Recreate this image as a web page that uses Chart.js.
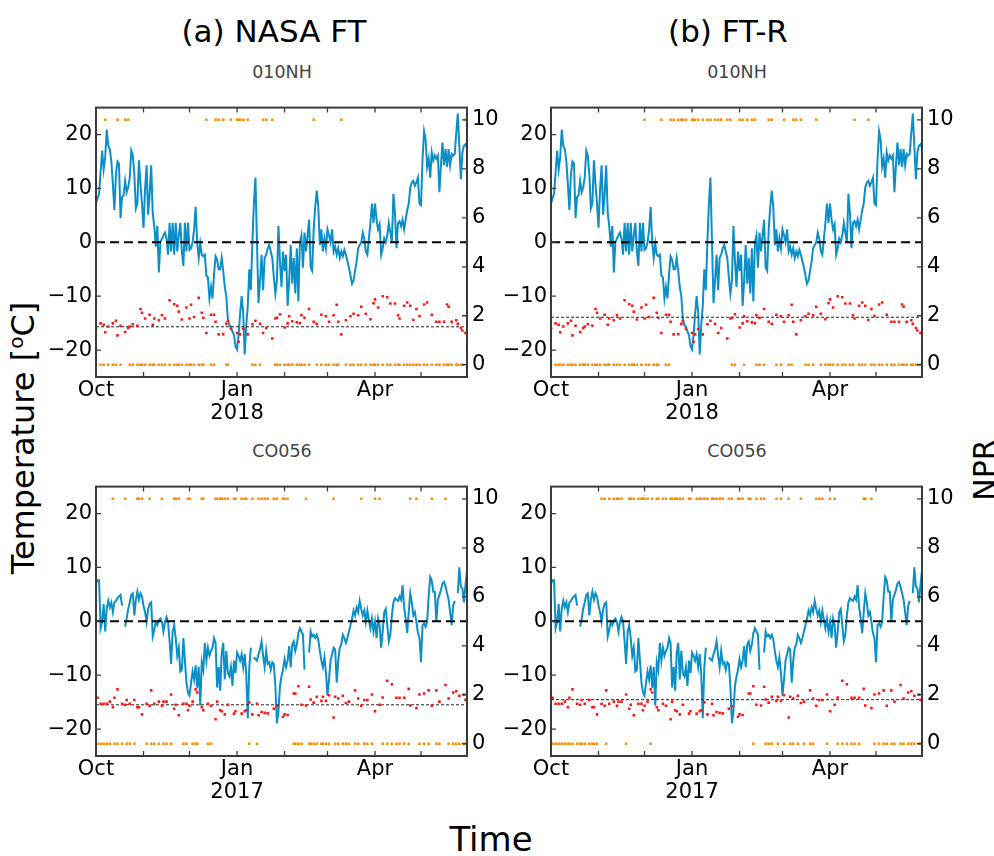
<!DOCTYPE html>
<html><head><meta charset="utf-8">
<script src="https://cdn.jsdelivr.net/npm/chart.js@4.4.1/dist/chart.umd.min.js"></script>
<style>
body{margin:0;background:#fff;width:994px;height:856px;position:relative;overflow:hidden;font-family:"DejaVu Sans",Verdana,sans-serif;}
canvas{position:absolute;}
.t{position:absolute;white-space:nowrap;transform:translate(-50%,-50%);color:#000;}
.sub{font-size:17.5px;color:#444;}
.big{font-size:31px;}
</style></head><body>
<div class="t big" style="left:274px;top:31px">(a) NASA FT</div>
<div class="t big" style="left:728px;top:31px">(b) FT-R</div>
<div class="t sub" style="left:282px;top:72px">010NH</div>
<div class="t sub" style="left:737px;top:72px">010NH</div>
<div class="t sub" style="left:282px;top:451px">CO056</div>
<div class="t sub" style="left:737px;top:451px">CO056</div>
<div class="t big" style="left:23px;top:438px;font-size:32px;transform:translate(-50%,-50%) rotate(-90deg)">Temperature [<sup style="font-size:20px">o</sup>C]</div>
<div class="t big" style="left:984px;top:470px;font-size:30px;transform:translate(-50%,-50%) rotate(-90deg)">NPR</div>
<div class="t big" style="left:491px;top:839px;font-size:34px">Time</div>
<canvas id="c1" width="470" height="340" style="left:40px;top:90px"></canvas>
<canvas id="c2" width="470" height="340" style="left:495px;top:90px"></canvas>
<canvas id="c3" width="470" height="340" style="left:40px;top:469px"></canvas>
<canvas id="c4" width="470" height="340" style="left:495px;top:469px"></canvas>
<script>
// ---- axes ----
const xDomain = [0, 242];               // days since 1 Oct
const monthTicks = [0, 31, 61, 92, 123, 151, 182, 212];
const monthLabels = ['Oct', '', '', 'Jan', '', '', 'Apr', ''];
const tempTicks = [-20, -10, 0, 10, 20];
const nprTicks = [0, 2, 4, 6, 8, 10];
const frozenLevel = 10, thawedLevel = 0;

// ---- 010NH (winter 2017/18) daily temperature, deg C ----
const tempNH = [7.2,8.2,9.0,13.0,17.0,13.5,15.8,20.9,17.9,17.3,15.0,10.8,6.0,12.6,15.0,14.6,4.5,8.4,8.7,11.4,
9.3,10.2,12.0,17.0,16.1,12.6,6.3,7.2,15.2,10.8,7.2,2.7,9.9,14.3,5.1,9.0,14.3,5.4,3.0,-0.8,
3.0,-5.6,0.0,0.7,1.3,1.8,0.7,-2.3,3.6,-1.7,3.6,-2.3,3.6,-1.7,1.3,3.6,-1.7,-4.4,3.6,-1.7,
3.6,-1.4,-1.1,0.0,2.4,6.6,0.0,-2.9,-0.2,-2.3,-2.6,-2.3,-6.2,-6.5,-10.4,-8.3,-10.4,-5.9,-2.6,-3.2,
-5.0,-5.0,-2.9,-5.3,-8.3,-10.0,-14.2,-15.4,-15.7,-16.6,-17.2,-19.3,-19.9,-17.2,-13.3,-10.0,-13.0,-20.8,-15.4,-11.8,
-5.0,-8.9,0.0,7.2,12.0,0.0,-11.3,-7.1,-2.3,-8.9,-2.9,-2.3,-1.1,-0.5,-1.7,-2.9,-6.5,-9.5,-7.1,3.0,
-3.5,-8.3,-1.7,-5.3,-2.3,-11.8,-7.1,-0.5,-7.7,-2.9,-9.5,-1.1,-11.0,0.0,1.3,-4.7,1.8,-1.7,1.3,4.2,
-4.7,-5.3,2.4,6.6,9.6,6.6,-0.5,2.4,-1.7,0.7,-1.1,2.4,1.3,0.0,2.4,-1.7,-0.8,-2.3,-1.1,-2.9,
-1.7,-2.6,-1.4,-2.3,-3.5,-4.7,-6.2,-7.7,-7.1,-5.3,-3.5,-1.1,-0.5,0.0,1.8,0.7,-1.7,-2.3,0.7,3.6,
7.2,3.6,7.2,4.2,2.4,3.3,-2.3,-1.1,0.7,0.0,1.3,3.6,1.8,0.0,9.0,5.4,-1.1,3.6,3.9,3.0,
4.2,2.4,4.2,6.0,7.2,10.2,11.1,11.4,10.5,11.1,12.0,7.2,6.9,15.5,20.6,19.1,14.0,15.5,12.0,16.7,
15.2,16.1,15.5,16.1,9.3,14.3,18.5,14.3,17.3,14.0,17.3,14.3,16.4,16.1,16.4,20.3,23.9,17.9,11.7,16.7,
17.9,18.2,17.5];

// ---- CO056 (winter 2016/17) daily temperature, deg C (null = missing) ----
const tempCO = [7.0,7.6,7.6,-1.3,-0.1,3.2,-1.9,2.3,3.8,2.6,3.5,1.7,3.5,3.8,4.3,4.6,4.9,2.9,null,-1.0,
0.5,2.3,3.5,4.9,5.2,1.1,4.0,5.5,4.0,5.2,4.6,2.9,1.7,-0.1,2.3,3.2,3.5,-2.8,-1.6,-0.1,
-0.7,0.2,0.5,-0.1,-1.9,-0.1,0.8,-0.1,-3.7,-7.9,-1.9,-0.7,-3.1,-6.4,-4.9,-9.3,-9.0,-3.1,-7.3,-11.4,
-13.2,-13.8,-11.4,-9.3,-10.8,-8.2,-12.3,-8.5,-15.6,-7.6,-9.0,-4.0,-7.3,-4.9,-6.4,-5.5,-4.9,-3.1,-4.0,-12.3,
-8.5,-12.9,-5.8,-4.0,-10.8,-5.5,-9.6,-10.2,-8.5,-12.0,-7.3,-9.6,-5.8,-6.4,-7.3,-6.1,-8.5,-6.1,-9.9,-18.0,
-8.5,-4.9,null,-6.7,-7.0,-7.3,-6.1,-5.2,-3.7,-6.4,-8.5,-5.5,-7.9,-7.6,-9.0,-7.6,-7.9,-12.0,-18.9,-16.8,
-12.0,-10.2,-9.0,-7.0,-8.5,-7.3,-4.6,-8.5,-4.3,-3.7,-5.5,-4.3,-2.2,-1.3,-1.9,-2.5,-9.0,null,null,-5.8,
-1.9,-2.8,-2.5,-3.1,-2.5,-3.4,-5.5,-7.3,-8.5,-6.7,-9.6,-13.8,-10.8,-7.3,-6.1,-4.9,-5.2,-11.4,-7.3,-4.9,
-4.3,-2.5,-3.1,-4.0,-3.1,-1.9,-0.7,0.5,2.0,1.1,2.6,1.7,3.8,2.3,1.1,2.0,-0.1,2.0,0.2,-1.3,
0.5,-1.9,-0.1,-3.1,0.5,-0.7,-4.9,-1.9,1.7,2.3,-0.7,-3.7,-2.5,1.1,3.5,4.3,4.0,3.8,4.6,4.0,
6.7,2.6,0.5,-2.2,1.7,5.2,3.5,1.1,1.7,-0.1,-2.2,-3.1,-7.6,-0.7,-0.4,-1.0,-0.1,4.6,8.2,7.6,
5.5,5.5,-0.1,4.0,4.9,5.8,7.0,7.3,6.4,5.2,4.0,1.7,-0.7,2.9,3.8,null,5.2,10.0,6.4,6.1,
3.5,6.7,9.4];

// ---- 010NH observations: day, NPR, freeze/thaw flag (1 = frozen) ----
const obsDayNH = [0,3,5,6,8,11,13,14,16,19,21,22,24,27,29,30,32,35,37,38,41,43,45,48,51,53,54,56,59,61,
62,64,67,69,70,72,75,77,78,80,83,85,86,88,92,93,94,96,99,102,104,107,109,111,115,117,118,120,123,125,
126,128,131,133,134,136,139,142,144,147,150,152,155,157,158,160,163,166,168,171,173,176,179,181,182,184,187,190,192,195,
197,198,201,203,205,207,209,211,214,216,219,222,224,227,229,230,232,235,236,238,239,241];
const nprNH = [1.47,1.69,1.63,1.33,1.56,1.69,1.8,1.2,1.59,1.34,1.5,1.56,1.65,1.59,2.28,2.12,1.89,2.04,1.63,1.89,1.82,2.02,1.89,2.63,2.47,2.41,2.17,1.85,2.34,1.89,
2.45,1.95,2.73,2.12,1.92,1.3,2.04,2.04,1.76,1.24,1.25,1.67,1.79,1.47,1.3,0.94,1.24,1.46,1.24,1.65,1.8,1.67,1.3,1.5,1.07,1.89,1.92,2.06,1.52,1.69,
1.98,1.78,1.73,1.7,2.02,1.92,2.28,1.76,1.67,2.04,1.98,1.76,2.02,2.45,1.76,1.24,1.82,1.98,2.08,2.02,2.37,2.08,1.86,2.51,2.67,2.34,2.8,2.76,2.5,2.5,
2.02,1.89,2.41,2.54,2.41,1.83,2.28,1.99,2.46,2.54,2.04,1.76,1.76,1.76,2.46,2.37,1.75,1.82,1.67,1.5,1.4,1.3];
const ftNasaNH = [0,0,0,1,0,0,0,1,0,1, 1,0,0,0,0,0,0,0,0,0, 0,0,0,0,0,0,0,0,0,0, 0,0,0,0,0,1,0,0,1,1,
1,0,0,1,1,1,1,1,1,0, 0,0,1,1,1,0,0,0,0,0, 0,0,0,0,0,0,0,1,0,0, 0,0,0,0,0,1,0,0,0,0,
0,0,0,0,0,0,0,0,0,0, 0,0,0,0,0,0,0,0,0,0, 0,0,0,0,0,0,0,0,0,0, 0,1];
const ftRNH = [0,0,0,0,0,0,0,0,0,0, 0,0,0,0,0,0,0,0,0,0, 0,0,0,0,0,0,0,0,0,1, 0,0,0,0,0,1,0,0,1,1,
1,1,1,1,1,1,1,1,1,1, 1,1,1,1,1,1,0,0,1,1, 0,1,1,1,0,0,0,1,1,0, 0,1,0,0,1,1,1,0,0,0,
1,0,0,0,0,0,0,0,0,0, 0,1,0,0,0,1,0,0,0,0, 0,0,0,0,0,0,0,0,0,0, 0,0];
const thrNasaNH = 1.55, thrRNH = 1.94;

// ---- CO056 observations ----
const obsDayCO = [1,3,5,7,9,11,12,14,17,19,20,22,25,27,28,30,33,35,36,38,41,43,44,46,49,51,52,54,57,59,
60,61,63,65,66,69,70,73,75,78,79,81,82,84,86,90,91,95,97,98,100,102,105,106,108,110,112,116,118,122,
123,125,129,130,132,134,137,139,140,142,144,147,148,150,152,155,156,158,161,163,165,169,171,173,175,177,180,182,185,187,
190,193,196,198,201,204,205,209,211,214,217,219,222,224,228,230,233,235,237,240,241];
const nprCO = [1.88,1.63,1.63,1.63,1.72,1.49,1.88,2.22,1.63,1.59,1.79,1.63,1.79,1.49,1.49,1.2,1.63,1.55,2.18,1.63,1.72,1.55,1.72,1.72,2.01,1.43,1.59,1.16,1.63,1.63,
1.37,1.55,1.72,2.22,2.09,1.49,1.37,1.63,1.55,1.0,1.72,1.37,1.33,1.2,1.59,1.23,1.33,1.23,1.33,1.37,1.69,1.2,1.63,1.16,1.3,1.26,1.24,1.43,1.53,1.1,
1.2,1.17,2.05,2.05,2.35,1.59,1.56,2.33,1.81,1.68,1.92,1.75,1.92,1.75,1.98,1.07,1.92,1.85,1.96,1.66,1.72,2.18,1.85,1.55,1.79,1.79,2.01,1.33,1.59,1.89,
2.57,2.43,1.88,1.88,1.88,2.24,1.56,1.46,2.01,2.05,2.18,1.55,2.18,1.72,2.4,1.85,2.09,2.14,1.96,2.01,1.8];
const ftNasaCO = [0,0,0,0,0,1,0,0,0,1, 0,0,0,1,1,1,0,1,0,0, 0,1,0,0,0,1,1,1,0,0, 1,1,0,0,0,1,1,0,0,1,
1,1,1,1,1,1,1,1,1,1, 0,1,0,1,1,1,1,1,1,1, 1,1,0,0,0,0,1,0,0,0, 0,0,0,0,0,1,0,0,0,0,
0,0,0,1,0,0,0,1,1,0, 0,0,0,0,0,0,1,1,0,0, 0,1,0,0,1,0,0,0,0,0, 0];
const ftRCO = [0,0,0,0,0,0,0,0,0,0, 0,0,0,0,0,0,1,1,0,1, 1,1,1,1,0,1,1,1,1,1, 1,1,1,0,1,1,1,1,1,1,
1,1,1,1,1,1,1,1,1,1, 1,1,1,1,1,1,1,1,1,1, 1,1,1,1,0,1,1,1,0,0, 0,1,0,1,0,1,0,0,0,1,
0,0,0,1,1,1,0,1,1,0, 0,0,0,0,0,1,1,1,0,0, 0,0,0,0,0,0,0,0,0,0, 0];
const thrNasaCO = 1.59, thrRCO = 1.80;

const FONT = '"DejaVu Sans", Verdana, sans-serif';

const framePlugin = {
  id: 'frame',
  afterDatasetsDraw(chart) {
    const {ctx, chartArea: a, scales} = chart;
    ctx.save();
    ctx.strokeStyle = '#3a3a3a';
    ctx.lineWidth = 1.3;
    const L = 5;
    ctx.beginPath();
    scales.x.ticks.forEach(t => {
      const p = scales.x.getPixelForValue(t.value);
      ctx.moveTo(p, a.bottom); ctx.lineTo(p, a.bottom - L);
      ctx.moveTo(p, a.top); ctx.lineTo(p, a.top + L);
    });
    scales.y.ticks.forEach(t => {
      const p = scales.y.getPixelForValue(t.value);
      ctx.moveTo(a.left, p); ctx.lineTo(a.left + L, p);
    });
    scales.y2.ticks.forEach(t => {
      const p = scales.y2.getPixelForValue(t.value);
      ctx.moveTo(a.right, p); ctx.lineTo(a.right - L, p);
    });
    ctx.stroke();
    ctx.lineWidth = 2;
    ctx.strokeRect(a.left, a.top, a.right - a.left, a.bottom - a.top);
    ctx.restore();
  }
};

function makeChart(id, temp, obsDay, npr, ft, thr, year) {
  const tempPts = temp.map((v, i) => ({x: i, y: v}));
  const nprPts = obsDay.map((d, i) => ({x: d, y: npr[i]}));
  const ftPts = obsDay.map((d, i) => ({x: d, y: ft[i] ? frozenLevel : thawedLevel}));
  const tickFont = {family: FONT, size: 21};
  const noGrid = {display: false, drawTicks: false};
  new Chart(document.getElementById(id), {
    type: 'line',
    data: {
      datasets: [
        {data: ftPts, yAxisID: 'y2', showLine: false, pointStyle: 'rect', pointRadius: 1.8,
         backgroundColor: '#ff8c00', borderWidth: 0, order: 1},
        {data: nprPts, yAxisID: 'y2', showLine: false, pointStyle: 'rect', pointRadius: 1.8,
         backgroundColor: '#ff1414', borderWidth: 0, order: 2},
        {data: [{x: xDomain[0], y: thr}, {x: xDomain[1], y: thr}], yAxisID: 'y2',
         borderColor: '#222', borderWidth: 1, borderDash: [3, 2], pointRadius: 0, order: 3},
        {data: [{x: xDomain[0], y: 0}, {x: xDomain[1], y: 0}], yAxisID: 'y',
         borderColor: '#000', borderWidth: 2, borderDash: [9, 5], pointRadius: 0, order: 4},
        {data: tempPts, yAxisID: 'y', borderColor: '#0b8fc6', borderWidth: 2, pointRadius: 0,
         spanGaps: false, tension: 0, order: 5}
      ]
    },
    options: {
      responsive: false, animation: false, devicePixelRatio: 1,
      layout: {padding: {top: 7, left: 0, right: 0, bottom: 0}},
      plugins: {legend: {display: false}, tooltip: {enabled: false}, title: {display: false}},
      scales: {
        x: {type: 'linear', position: 'bottom', min: xDomain[0], max: xDomain[1],
            grid: noGrid, border: {display: false},
            afterBuildTicks: s => { s.ticks = monthTicks.map(v => ({value: v})); },
            afterFit: s => { s.height = 53; },
            ticks: {autoSkip: false, maxRotation: 0, padding: 3, color: '#000',
                    font: {family: FONT, size: 21, lineHeight: 1.05},
                    callback: v => { const i = monthTicks.indexOf(v); const l = monthLabels[i];
                                     return l === 'Jan' ? [l, year] : l; }}},
        y: {position: 'left', min: -25, max: 25, grid: noGrid, border: {display: false},
            afterBuildTicks: s => { s.ticks = tempTicks.map(v => ({value: v})); },
            afterFit: s => { s.width = 56; },
            ticks: {padding: 4, color: '#000', font: tickFont,
                    callback: v => v < 0 ? '\u2212' + Math.abs(v) : String(v)}},
        y2: {position: 'right', min: -0.5, max: 10.5, grid: noGrid, border: {display: false},
            afterBuildTicks: s => { s.ticks = nprTicks.map(v => ({value: v})); },
            afterFit: s => { s.width = 43; },
            ticks: {padding: 5, color: '#000', font: tickFont, callback: v => String(v)}}
      }
    },
    plugins: [framePlugin]
  });
}

makeChart('c1', tempNH, obsDayNH, nprNH, ftNasaNH, thrNasaNH, '2018');
makeChart('c2', tempNH, obsDayNH, nprNH, ftRNH, thrRNH, '2018');
makeChart('c3', tempCO, obsDayCO, nprCO, ftNasaCO, thrNasaCO, '2017');
makeChart('c4', tempCO, obsDayCO, nprCO, ftRCO, thrRCO, '2017');
</script>
</body></html>
